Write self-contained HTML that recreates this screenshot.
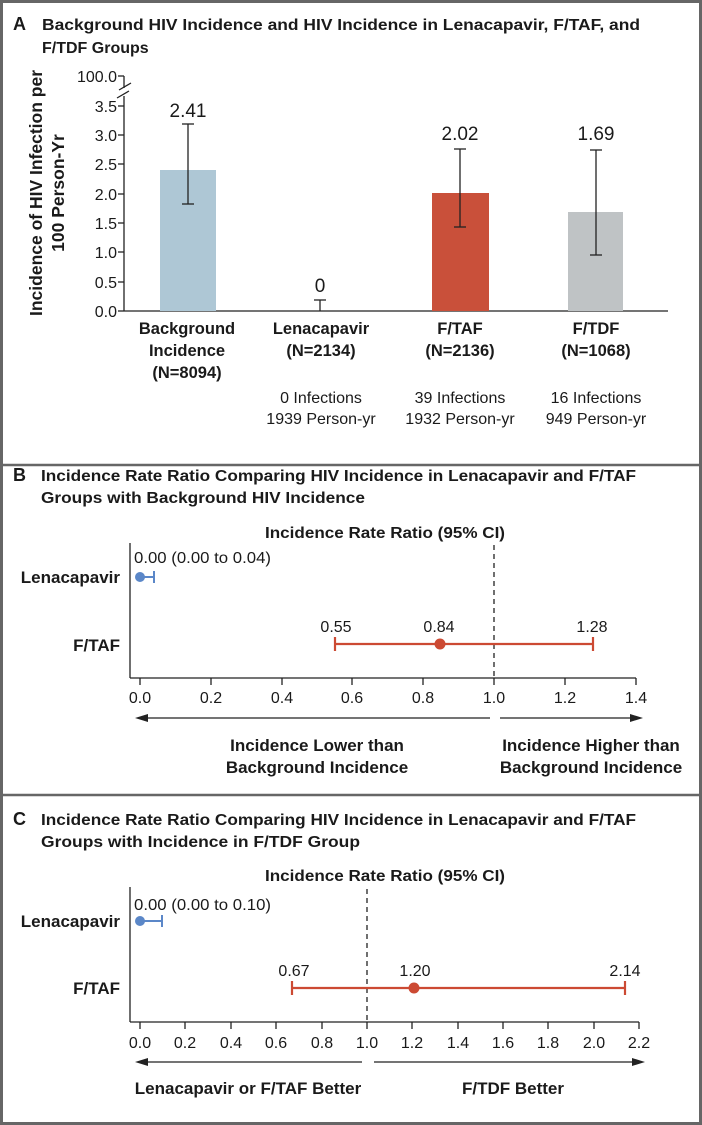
<!DOCTYPE html>
<html><head><meta charset="utf-8"><style>
html,body{margin:0;padding:0;background:#fff}
svg{display:block}
text{font-family:"Liberation Sans",sans-serif;fill:#1a1a1a}
.t{font-weight:bold;font-size:16px}
.n{font-size:14.5px}
.m{font-size:16px}
.b{font-weight:bold;font-size:16.5px}
</style></head><body>
<svg width="702" height="1125" viewBox="0 0 702 1125" xmlns="http://www.w3.org/2000/svg">
<rect x="1.5" y="1.5" width="699" height="1122" fill="#fff" stroke="#666" stroke-width="3"/>
<line x1="0" y1="465" x2="702" y2="465" stroke="#666" stroke-width="2.5"/>
<line x1="0" y1="795" x2="702" y2="795" stroke="#666" stroke-width="2.5"/>

<!-- Panel A -->
<text x="13" y="30" class="t" style="font-size:18px">A</text>
<text x="42" y="30" class="t" textLength="598" lengthAdjust="spacingAndGlyphs">Background HIV Incidence and HIV Incidence in Lenacapavir, F/TAF, and</text>
<text x="42" y="53" class="t">F/TDF Groups</text>
<g transform="translate(42,193) rotate(-90)"><text x="0" y="0" text-anchor="middle" class="b" style="font-size:17.5px">Incidence of HIV Infection per</text></g>
<g transform="translate(64,193) rotate(-90)"><text x="0" y="0" text-anchor="middle" class="b" style="font-size:17.5px">100 Person-Yr</text></g>
<g stroke="#222" stroke-width="1.3" fill="none">
<line x1="124" y1="76" x2="124" y2="88"/>
<line x1="124" y1="96" x2="124" y2="311"/>
<line x1="119" y1="90" x2="131" y2="83"/>
<line x1="117" y1="98" x2="129" y2="91"/>
<line x1="124" y1="311" x2="668" y2="311"/>
<line x1="118" y1="76" x2="124" y2="76"/>
<line x1="118" y1="106" x2="124" y2="106"/>
<line x1="118" y1="135" x2="124" y2="135"/>
<line x1="118" y1="164" x2="124" y2="164"/>
<line x1="118" y1="194" x2="124" y2="194"/>
<line x1="118" y1="223" x2="124" y2="223"/>
<line x1="118" y1="252" x2="124" y2="252"/>
<line x1="118" y1="282" x2="124" y2="282"/>
<line x1="118" y1="311" x2="124" y2="311"/>
</g>
<g text-anchor="end">
<text x="117" y="82" class="m">100.0</text>
<text x="117" y="112" class="m">3.5</text>
<text x="117" y="141" class="m">3.0</text>
<text x="117" y="170" class="m">2.5</text>
<text x="117" y="200" class="m">2.0</text>
<text x="117" y="229" class="m">1.5</text>
<text x="117" y="258" class="m">1.0</text>
<text x="117" y="288" class="m">0.5</text>
<text x="117" y="317" class="m">0.0</text>
</g>
<rect x="160" y="170" width="56" height="141" fill="#aec7d5"/>
<rect x="432" y="193" width="57" height="118" fill="#c9503a"/>
<rect x="568" y="212" width="55" height="99" fill="#bfc3c5"/>
<g stroke="#222" stroke-width="1.3">
<line x1="188" y1="124" x2="188" y2="204"/><line x1="182" y1="124" x2="194" y2="124"/><line x1="182" y1="204" x2="194" y2="204"/>
<line x1="320" y1="300" x2="320" y2="311"/><line x1="314" y1="300" x2="326" y2="300"/>
<line x1="460" y1="149" x2="460" y2="227"/><line x1="454" y1="149" x2="466" y2="149"/><line x1="454" y1="227" x2="466" y2="227"/>
<line x1="596" y1="150" x2="596" y2="255"/><line x1="590" y1="150" x2="602" y2="150"/><line x1="590" y1="255" x2="602" y2="255"/>
</g>
<g text-anchor="middle">
<text x="188" y="117" style="font-size:19px">2.41</text>
<text x="320" y="292" style="font-size:19px">0</text>
<text x="460" y="140" style="font-size:19px">2.02</text>
<text x="596" y="140" style="font-size:19px">1.69</text>
</g>
<g text-anchor="middle">
<text x="187" y="334" class="b">Background</text><text x="187" y="356" class="b">Incidence</text><text x="187" y="378" class="b">(N=8094)</text>
<text x="321" y="334" class="b">Lenacapavir</text><text x="321" y="356" class="b">(N=2134)</text>
<text x="460" y="334" class="b">F/TAF</text><text x="460" y="356" class="b">(N=2136)</text>
<text x="596" y="334" class="b">F/TDF</text><text x="596" y="356" class="b">(N=1068)</text>
<text x="321" y="403" class="m">0 Infections</text><text x="321" y="424" class="m">1939 Person-yr</text>
<text x="460" y="403" class="m">39 Infections</text><text x="460" y="424" class="m">1932 Person-yr</text>
<text x="596" y="403" class="m">16 Infections</text><text x="596" y="424" class="m">949 Person-yr</text>
</g>

<!-- Panel B -->
<text x="13" y="481" class="t" style="font-size:18px">B</text>
<text x="41" y="481" class="t" textLength="595" lengthAdjust="spacingAndGlyphs">Incidence Rate Ratio Comparing HIV Incidence in Lenacapavir and F/TAF</text>
<text x="41" y="503" class="t" textLength="324" lengthAdjust="spacingAndGlyphs">Groups with Background HIV Incidence</text>
<text x="385" y="538" text-anchor="middle" class="t" textLength="240" lengthAdjust="spacingAndGlyphs">Incidence Rate Ratio (95% CI)</text>
<g stroke="#222" stroke-width="1.3">
<line x1="130" y1="543" x2="130" y2="678"/>
<line x1="130" y1="678" x2="636" y2="678"/>
<line x1="140" y1="678" x2="140" y2="685"/><line x1="211" y1="678" x2="211" y2="685"/><line x1="282" y1="678" x2="282" y2="685"/><line x1="352" y1="678" x2="352" y2="685"/><line x1="423" y1="678" x2="423" y2="685"/><line x1="494" y1="678" x2="494" y2="685"/><line x1="565" y1="678" x2="565" y2="685"/><line x1="636" y1="678" x2="636" y2="685"/>
<line x1="494" y1="545" x2="494" y2="678" stroke-dasharray="5,4"/>
<line x1="490" y1="718" x2="145" y2="718"/><line x1="500" y1="718" x2="635" y2="718"/>
</g>
<polygon points="135,718 148,714 148,722" fill="#222"/>
<polygon points="643,718 630,714 630,722" fill="#222"/>
<g text-anchor="middle">
<text x="140" y="703" class="m">0.0</text><text x="211" y="703" class="m">0.2</text><text x="282" y="703" class="m">0.4</text><text x="352" y="703" class="m">0.6</text><text x="423" y="703" class="m">0.8</text><text x="494" y="703" class="m">1.0</text><text x="565" y="703" class="m">1.2</text><text x="636" y="703" class="m">1.4</text>
<text x="317" y="751" class="b" style="font-size:17px">Incidence Lower than</text><text x="317" y="773" class="b" style="font-size:17px">Background Incidence</text>
<text x="591" y="751" class="b" style="font-size:17px">Incidence Higher than</text><text x="591" y="773" class="b" style="font-size:17px">Background Incidence</text>
<text x="336" y="632" class="m">0.55</text><text x="439" y="632" class="m">0.84</text><text x="592" y="632" class="m">1.28</text>
</g>
<text x="120" y="583" text-anchor="end" class="b" style="font-size:17px">Lenacapavir</text>
<text x="120" y="651" text-anchor="end" class="b" style="font-size:17px">F/TAF</text>
<text x="134" y="563" class="m" textLength="137" lengthAdjust="spacingAndGlyphs">0.00 (0.00 to 0.04)</text>
<g stroke="#5b87c8" stroke-width="2"><line x1="140" y1="577" x2="154" y2="577"/><line x1="154" y1="571" x2="154" y2="583"/></g>
<circle cx="140" cy="577" r="5" fill="#5b87c8"/>
<g stroke="#cc4a33" stroke-width="2.2"><line x1="335" y1="644" x2="593" y2="644"/><line x1="335" y1="637" x2="335" y2="651"/><line x1="593" y1="637" x2="593" y2="651"/></g>
<circle cx="440" cy="644" r="5.5" fill="#cc4a33"/>

<!-- Panel C -->
<text x="13" y="825" class="t" style="font-size:18px">C</text>
<text x="41" y="825" class="t" textLength="595" lengthAdjust="spacingAndGlyphs">Incidence Rate Ratio Comparing HIV Incidence in Lenacapavir and F/TAF</text>
<text x="41" y="847" class="t" textLength="319" lengthAdjust="spacingAndGlyphs">Groups with Incidence in F/TDF Group</text>
<text x="385" y="881" text-anchor="middle" class="t" textLength="240" lengthAdjust="spacingAndGlyphs">Incidence Rate Ratio (95% CI)</text>
<g stroke="#222" stroke-width="1.3">
<line x1="130" y1="887" x2="130" y2="1022"/>
<line x1="130" y1="1022" x2="639" y2="1022"/>
<line x1="140" y1="1022" x2="140" y2="1029"/><line x1="185" y1="1022" x2="185" y2="1029"/><line x1="231" y1="1022" x2="231" y2="1029"/><line x1="276" y1="1022" x2="276" y2="1029"/><line x1="322" y1="1022" x2="322" y2="1029"/><line x1="367" y1="1022" x2="367" y2="1029"/><line x1="412" y1="1022" x2="412" y2="1029"/><line x1="458" y1="1022" x2="458" y2="1029"/><line x1="503" y1="1022" x2="503" y2="1029"/><line x1="548" y1="1022" x2="548" y2="1029"/><line x1="594" y1="1022" x2="594" y2="1029"/><line x1="639" y1="1022" x2="639" y2="1029"/>
<line x1="367" y1="889" x2="367" y2="1022" stroke-dasharray="5,4"/>
<line x1="362" y1="1062" x2="145" y2="1062"/><line x1="374" y1="1062" x2="638" y2="1062"/>
</g>
<polygon points="135,1062 148,1058 148,1066" fill="#222"/>
<polygon points="645,1062 632,1058 632,1066" fill="#222"/>
<g text-anchor="middle">
<text x="140" y="1048" class="m">0.0</text><text x="185" y="1048" class="m">0.2</text><text x="231" y="1048" class="m">0.4</text><text x="276" y="1048" class="m">0.6</text><text x="322" y="1048" class="m">0.8</text><text x="367" y="1048" class="m">1.0</text><text x="412" y="1048" class="m">1.2</text><text x="458" y="1048" class="m">1.4</text><text x="503" y="1048" class="m">1.6</text><text x="548" y="1048" class="m">1.8</text><text x="594" y="1048" class="m">2.0</text><text x="639" y="1048" class="m">2.2</text>
<text x="248" y="1094" class="b" style="font-size:17px">Lenacapavir or F/TAF Better</text>
<text x="513" y="1094" class="b" style="font-size:17px">F/TDF Better</text>
<text x="294" y="976" class="m">0.67</text><text x="415" y="976" class="m">1.20</text><text x="625" y="976" class="m">2.14</text>
</g>
<text x="120" y="927" text-anchor="end" class="b" style="font-size:17px">Lenacapavir</text>
<text x="120" y="994" text-anchor="end" class="b" style="font-size:17px">F/TAF</text>
<text x="134" y="910" class="m" textLength="137" lengthAdjust="spacingAndGlyphs">0.00 (0.00 to 0.10)</text>
<g stroke="#5b87c8" stroke-width="2"><line x1="140" y1="921" x2="162" y2="921"/><line x1="162" y1="915" x2="162" y2="927"/></g>
<circle cx="140" cy="921" r="5" fill="#5b87c8"/>
<g stroke="#cc4a33" stroke-width="2.2"><line x1="292" y1="988" x2="625" y2="988"/><line x1="292" y1="981" x2="292" y2="995"/><line x1="625" y1="981" x2="625" y2="995"/></g>
<circle cx="414" cy="988" r="5.5" fill="#cc4a33"/>
</svg>
</body></html>
